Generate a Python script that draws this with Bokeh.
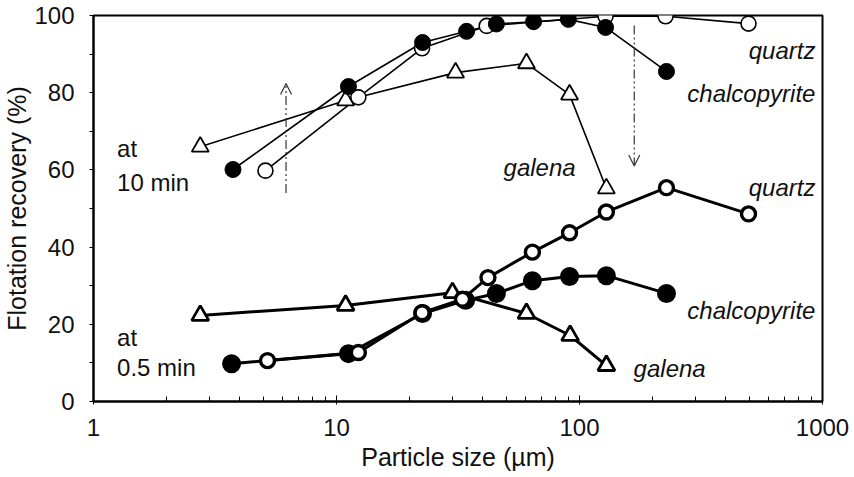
from bokeh.plotting import figure
from bokeh.models import FixedTicker, Label, Arrow, OpenHead
from bokeh.embed import file_html
from bokeh.resources import INLINE

# ---- data ----
# 10 min
q10_x = [5.1, 12.3, 22.5, 41.5, 128, 226, 496]
q10_y = [59.8, 78.8, 91.5, 97.3, 99.8, 99.8, 97.9]
c10_x = [3.75, 11.2, 22.6, 34.3, 45.5, 64.7, 90, 128, 228]
c10_y = [60.1, 81.6, 93.0, 95.9, 97.8, 98.4, 99.0, 96.9, 85.5]
g10_x = [2.75, 10.9, 30.9, 60.5, 91, 129]
g10_y = [66.0, 78.0, 85.2, 87.6, 79.5, 55.2]
# 0.5 min
q05_x = [5.2, 12.3, 22.5, 33, 42, 64, 91, 129, 228, 496]
q05_y = [10.6, 12.7, 23.0, 26.5, 32.1, 38.7, 43.7, 49.1, 55.4, 48.6]
c05_x = [3.7, 11.2, 22.6, 34, 45.5, 64, 91, 129, 228]
c05_y = [9.8, 12.4, 22.8, 26.2, 28.0, 31.3, 32.4, 32.6, 28.0]
g05_x = [2.75, 10.9, 30, 60.5, 91.5, 129]
g05_y = [22.3, 24.9, 28.2, 22.8, 17.1, 9.3]

y_ticks = [0, 20, 40, 60, 80, 100]
y_minor = [10, 30, 50, 70, 90]
x_ticks = [1, 10, 100, 1000]

FONT = "Liberation Sans"
TXT = "#111111"

p = figure(width=854, height=477, x_axis_type="log", x_range=(1, 1000), y_range=(0, 100),
           output_backend="svg", toolbar_location=None,
           min_border_left=93, min_border_right=32, min_border_top=15, min_border_bottom=76)
p.grid.visible = False
p.outline_line_color = "black"
p.outline_line_width = 2
p.background_fill_color = "white"
p.border_fill_color = "white"

# axes
p.yaxis.ticker = FixedTicker(ticks=y_ticks, minor_ticks=y_minor)
p.xaxis.ticker = FixedTicker(ticks=x_ticks,
                             minor_ticks=[m * d for d in [1, 10, 100] for m in range(2, 10)])
for ax in (p.xaxis[0], p.yaxis[0]):
    ax.axis_line_color = "black"
    ax.axis_line_width = 2
    ax.major_tick_line_color = "black"
    ax.minor_tick_line_color = "black"
    ax.major_label_text_font = FONT
    ax.major_label_text_font_size = "24px"
    ax.major_label_text_color = TXT
    ax.axis_label_text_font = FONT
    ax.axis_label_text_font_style = "normal"
    ax.axis_label_text_color = TXT

p.yaxis.major_tick_in = 0
p.yaxis.major_tick_out = 4
p.yaxis.minor_tick_in = 0
p.yaxis.minor_tick_out = 4
p.yaxis.major_label_standoff = 15
p.yaxis.axis_label = "Flotation recovery (%)"
p.yaxis.axis_label_text_font_size = "25px"
p.yaxis.axis_label_standoff = 0

p.xaxis.major_tick_in = 6
p.xaxis.major_tick_out = 3
p.xaxis.minor_tick_in = 5
p.xaxis.minor_tick_out = 0
p.xaxis.major_label_standoff = 14
p.xaxis.major_label_overrides = {1: "1", 10: "10", 100: "100", 1000: "1000"}
p.xaxis.axis_label = "Particle size (µm)"
p.xaxis.axis_label_text_font_size = "25px"
p.xaxis.axis_label_standoff = 4

# 10 min series (thin lines)
p.line(g10_x, g10_y, line_color="black", line_width=1.6)
p.line(q10_x, q10_y, line_color="black", line_width=1.6)
p.line(c10_x, c10_y, line_color="black", line_width=1.6)
p.scatter(g10_x, g10_y, marker="triangle", size=17, fill_color="white", line_color="black", line_width=1.8)
p.scatter(q10_x, q10_y, marker="circle", size=15, fill_color="white", line_color="black", line_width=1.6)
p.scatter(c10_x, c10_y, marker="circle", size=16, fill_color="black", line_color="black")

# 0.5 min series (thick lines)
p.line(g05_x, g05_y, line_color="black", line_width=3)
p.line(q05_x, q05_y, line_color="black", line_width=3)
p.line(c05_x, c05_y, line_color="black", line_width=3)
p.scatter(g05_x, g05_y, marker="triangle", size=17, fill_color="white", line_color="black", line_width=2.8)
p.scatter(c05_x, c05_y, marker="circle", size=17, fill_color="black", line_color="black", line_width=2)
p.scatter(q05_x, q05_y, marker="circle", size=14, fill_color="white", line_color="black", line_width=3.4)

# arrows
p.add_layout(Arrow(x_start=6.2, y_start=54, x_end=6.2, y_end=82.4,
                   line_color="#333333", line_width=1.2, line_dash="9 3 2 3 2 3",
                   end=OpenHead(size=11, line_color="#333333", line_width=1.2)))
p.add_layout(Arrow(x_start=168, y_start=97.4, x_end=168, y_end=61,
                   line_color="#333333", line_width=1.2, line_dash="9 3 2 3 2 3",
                   end=OpenHead(size=11, line_color="#333333", line_width=1.2)))

def lab(x, y, t, align="left", italic=True):
    p.add_layout(Label(x=x, y=y, text=t, text_font=FONT, text_font_size="24px",
                       text_font_style="italic" if italic else "normal",
                       text_color=TXT, text_align=align, text_baseline="middle"))

lab(935, 90.9, "quartz", "right")
lab(935, 79.8, "chalcopyrite", "right")
lab(48.7, 60.6, "galena", "left")
lab(935, 55.4, "quartz", "right")
lab(935, 23.6, "chalcopyrite", "right")
lab(167, 8.5, "galena", "left")
lab(1.25, 65.5, "at", "left", italic=False)
lab(1.25, 56.7, "10 min", "left", italic=False)
lab(1.25, 16.6, "at", "left", italic=False)
lab(1.25, 8.8, "0.5 min", "left", italic=False)

open("out.html", "w").write(file_html(p, INLINE))
